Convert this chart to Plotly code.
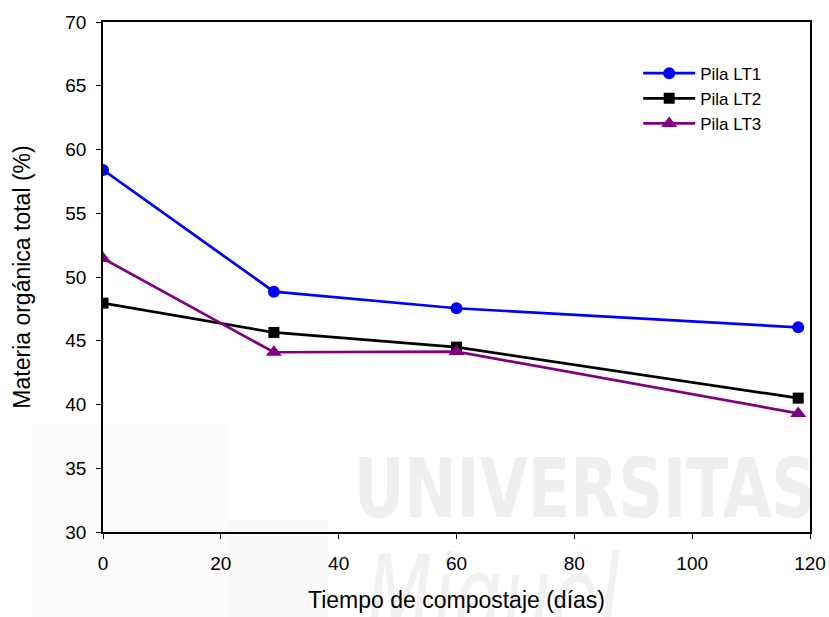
import base64
import plotly.graph_objects as go

# Composting time (days) and total organic matter (%) per pile
dias = [0, 29, 60, 118]
pila_lt1 = [58.4, 48.85, 47.55, 46.05]
pila_lt2 = [47.95, 45.65, 44.5, 40.5]
pila_lt3 = [51.45, 44.1, 44.15, 39.3]

series = [
    ("Pila LT1", pila_lt1, "#0000ff", "circle", 12),
    ("Pila LT2", pila_lt2, "#000000", "square", 11),
    ("Pila LT3", pila_lt3, "#800080", "triangle-up", 14),
]

W, H = 829, 617
L, R, T, B = 103, 19, 22, 85
pw, ph = W - L - R, H - T - B

fig = go.Figure()
for name, vals, color, symbol, msize in series:
    fig.add_trace(go.Scatter(
        x=dias, y=vals, name=name, mode="lines+markers",
        line=dict(color=color, width=2.7),
        marker=dict(symbol=symbol, size=msize, color=color),
    ))

# Faint institutional watermark, drawn underneath everything else
watermark_svg = f"""<svg xmlns="http://www.w3.org/2000/svg" width="{W}" height="{H}" viewBox="0 0 {W} {H}">
<rect x="32" y="423" width="196" height="194" fill="#fbfbfb"/>
<rect x="228" y="520" width="100" height="97" fill="#f9f9f9"/>
<text x="354" y="517" textLength="462" lengthAdjust="spacingAndGlyphs"
 font-family="DejaVu Sans Condensed, DejaVu Sans, sans-serif" font-weight="bold"
 font-size="82" fill="#efefef">UNIVERSITAS</text>
<text x="366" y="636" textLength="254" lengthAdjust="spacingAndGlyphs"
 font-family="DejaVu Sans, sans-serif" font-style="italic"
 font-size="112" fill="#f1f1f1">Miguel</text>
</svg>"""
wm_uri = "data:image/svg+xml;base64," + base64.b64encode(watermark_svg.encode()).decode()
fig.add_layout_image(
    source=wm_uri, xref="paper", yref="paper",
    x=-L / pw, y=1 + T / ph, sizex=W / pw, sizey=H / ph,
    xanchor="left", yanchor="top", sizing="stretch", layer="below",
)

fig.update_layout(
    width=W, height=H,
    margin=dict(l=L, r=R, t=T, b=B, autoexpand=False),
    paper_bgcolor="white", plot_bgcolor="rgba(0,0,0,0)",
    font=dict(family="Liberation Sans, Arial, sans-serif", size=19, color="black"),
    showlegend=True,
    legend=dict(x=0.757, y=0.934, xanchor="left", yanchor="top",
                bgcolor="rgba(0,0,0,0)", font=dict(size=17),
                tracegroupgap=0, itemwidth=52),
    xaxis=dict(
        range=[0, 120], tickvals=[0, 20, 40, 60, 80, 100, 120],
        ticks="outside", ticklen=5, tickcolor="black", ticklabelstandoff=8,
        showline=True, linecolor="black", linewidth=1.5, mirror=True,
        showgrid=False, zeroline=False, automargin=False,
        title=dict(text="Tiempo de compostaje (días)", font=dict(size=23), standoff=19),
    ),
    yaxis=dict(
        range=[30, 70], tickvals=[30, 35, 40, 45, 50, 55, 60, 65, 70],
        ticks="outside", ticklen=5, tickcolor="black", ticklabelstandoff=6,
        showline=True, linecolor="black", linewidth=1.5, mirror=True,
        showgrid=False, zeroline=False, automargin=False,
        title=dict(text="Materia orgánica total (%)", font=dict(size=23), standoff=28),
    ),
)

fig.write_html("out.html")
